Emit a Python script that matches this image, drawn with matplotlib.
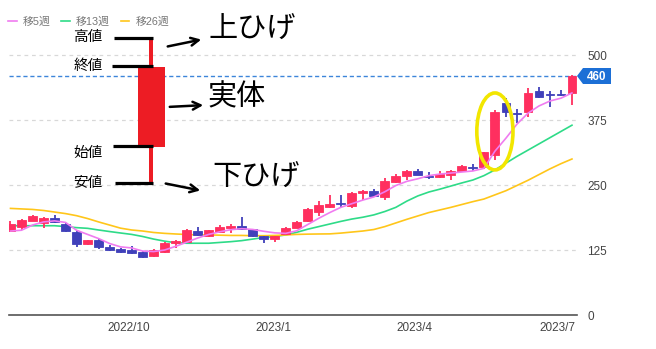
import numpy as np
import pandas as pd
import matplotlib
matplotlib.use("Agg")
import matplotlib.pyplot as plt
import matplotlib.dates as mdates
from matplotlib.patches import Ellipse, Rectangle, Polygon
from matplotlib.lines import Line2D

plt.rcParams['font.family'] = ['Liberation Sans', 'Noto Sans CJK JP', 'DejaVu Sans']

# weekly candles (Monday dates)
weeks = pd.date_range("2022-07-18", periods=52, freq="7D")
opens = [161, 170, 181, 176, 187, 175, 160, 136, 144, 131, 126, 125, 122,
         114, 122, 138, 141, 162, 151, 159, 167, 172, 165, 151, 147, 156,
         168, 180, 199, 207, 216, 210, 235, 239, 226, 255, 267, 276, 268,
         265, 269, 277, 285, 284, 308, 407, 389, 391, 430, 425, 425, 426]
highs = [181, 184, 193, 188, 192, 176, 162, 145, 146, 135, 128, 133, 123,
         126, 140, 144, 165, 170, 164, 174, 175, 188, 166, 152, 152, 169,
         180, 205, 219, 231, 231, 236, 240, 242, 263, 272, 278, 281, 275,
         276, 278, 289, 290, 314, 394, 417, 397, 436, 438, 431, 433, 461]
lows = [159, 163, 180, 167, 176, 160, 131, 134, 126, 123, 120, 118, 109,
        112, 120, 128, 140, 152, 150, 158, 157, 164, 150, 139, 140, 155,
        167, 178, 190, 205, 208, 206, 222, 228, 222, 254, 259, 269, 262,
        264, 260, 276, 276, 280, 298, 380, 370, 380, 418, 400, 422, 404]
closes = [175, 182, 191, 187, 178, 162, 136, 144, 131, 125, 122, 120, 112,
          125, 139, 142, 163, 154, 163, 170, 172, 165, 152, 146, 151, 168,
          179, 204, 212, 213, 213, 234, 239, 229, 258, 268, 277, 270, 266,
          271, 277, 287, 283, 313, 391, 391, 387, 426, 420, 423, 424, 460]

# moving averages
ma5 = [161.5, 163, 173, 179, 181, 178, 163, 155, 147, 137.5, 131, 129, 123,
       122, 125, 132, 140, 148, 155, 160, 164, 166, 164.5, 161, 158, 157,
       162, 174, 186, 197, 207, 214, 221, 227, 237, 249, 257, 262, 268,
       271, 273, 275, 277, 282, 315, 340, 367, 388, 402, 411.5, 417, 427]
ma13 = [171.7, 171.7, 171.7, 171.7, 171.7, 170, 168, 166.7, 163.5, 160.5,
        157.7, 155, 151, 146, 142, 139, 138, 138, 138, 139.5, 141, 143, 146,
        149, 151, 154, 159, 165, 170, 175, 180, 184.5, 188, 192.5, 199, 207,
        219, 229, 236.5, 242, 248, 254, 259.6, 268, 279, 292, 305, 317, 329,
        341, 353, 365]
ma26 = [205, 204, 203, 201, 198, 195, 191, 185.5, 179, 173, 167, 163.5,
        161.5, 158.7, 157, 155.8, 154.8, 154, 154, 153.5, 153, 153, 152.5,
        152.5, 153, 154, 155, 155.5, 155.8, 156, 157.5, 159.5, 161.5, 164.4,
        170, 177, 184, 190.5, 197, 202, 207, 212.5, 218, 223, 231, 239, 249,
        259, 270, 281, 291, 300]
last_price = 460

up_col = "#FF2F5F"
down_col = "#4040BA"

W, H = 656, 349
fig = plt.figure(figsize=(W / 100, H / 100), dpi=100)
ax = fig.add_axes([9 / W, 34 / H, 568 / W, 290 / H])

x = mdates.date2num(weeks)
o = np.array(opens); c = np.array(closes)
cols = [up_col if cc >= oo else down_col for oo, cc in zip(o, c)]
ax.vlines(x, lows, highs, colors=cols, lw=1.3, zorder=3)
ax.bar(x, np.maximum(np.abs(c - o), 0.8), bottom=np.minimum(o, c), width=5.6,
       color=cols, edgecolor=cols, lw=0.6, zorder=4)

l5, = ax.plot(x, ma5, color="#F07CF0", lw=1.2, zorder=5)
l13, = ax.plot(x, ma13, color="#2EDB88", lw=1.2, zorder=2)
l26, = ax.plot(x, ma26, color="#FFC61A", lw=1.2, zorder=2)

ax.axhline(last_price, color="#3D85DA", lw=1, ls=(0, (3, 2)), zorder=1)

# yellow ellipse around the big candle
ax.add_patch(Ellipse((x[44], 353), 23, 148, fill=False, lw=2.6,
                     edgecolor="#F2E600", zorder=6))

ax.set_xlim(x[0] - 0.95, x[-1] + 3.2)
ax.set_ylim(0, 557.7)
ax.set_yticks([0, 125, 250, 375, 500])
ax.yaxis.tick_right()
ax.tick_params(axis='y', length=0, pad=7.5, labelsize=8.5, labelcolor="#444444")
ax.grid(axis='y', color="#D8D8D8", ls=(0, (3, 3)), lw=0.9)
ax.xaxis.set_major_locator(mdates.MonthLocator(bymonth=[1, 4, 7, 10]))
ax.xaxis.set_major_formatter(mdates.DateFormatter("%Y/%-m"))
ax.tick_params(axis='x', length=0, pad=5, labelsize=8.5, labelcolor="#444444")
for s in ['top', 'left', 'right']:
    ax.spines[s].set_visible(False)
ax.spines['bottom'].set_color("#555555")
ax.spines['bottom'].set_linewidth(1.2)

fig.legend([l5, l13, l26], ["移5週", "移13週", "移26週"], loc='center left',
           bbox_to_anchor=(8 / W, 1 - 22 / H), ncol=3, frameon=False,
           handlelength=0.8, handletextpad=0.55, columnspacing=1.0,
           fontsize=7.8, labelcolor="#777777", borderaxespad=0, borderpad=0)

# overlay in pixel coordinates
ov = fig.add_axes([0, 0, 1, 1], facecolor='none')
ov.set_xlim(0, W)
ov.set_ylim(H, 0)
ov.axis('off')

# price tag
ov.add_patch(Polygon([(577, 76), (583, 68), (611, 68), (611, 84), (583, 84)],
                     closed=True, color="#1C6FD6", lw=0))
ov.text(597, 76.5, str(last_price), color='white', fontsize=8.5, fontweight='bold',
        ha='center', va='center')

# explanatory candle
ov.add_patch(Rectangle((149, 38), 4, 146, color="#ED1C24", lw=0))
ov.add_patch(Rectangle((138, 67), 27, 80, color="#ED1C24", lw=0))
for y0, x0 in [(38, 114), (66, 112), (146, 113), (183, 115)]:
    ov.plot([x0, 153], [y0, y0], color='black', lw=2.3, solid_capstyle='butt')
for txt, yy in [("高値", 37), ("終値", 66), ("始値", 153), ("安値", 183)]:
    ov.text(88, yy, txt, fontsize=10.5, ha='center', va='center', color='black',
            family=['Noto Sans CJK JP'])

for (x1, y1, x2, y2), txt, tx, ty in [((165, 47, 204, 39), "上ひげ", 209, 30),
                                      ((167, 107, 206, 105), "実体", 207, 97),
                                      ((163, 183, 203, 191), "下ひげ", 212, 178)]:
    ov.annotate("", xy=(x2, y2), xytext=(x1, y1),
                arrowprops=dict(arrowstyle='->', lw=1.8, color='black',
                                mutation_scale=14))
    ov.text(tx, ty, txt, fontsize=21, ha='left', va='center', color='black',
            family=['Noto Sans CJK JP'])

fig.savefig("out.png", dpi=100)
